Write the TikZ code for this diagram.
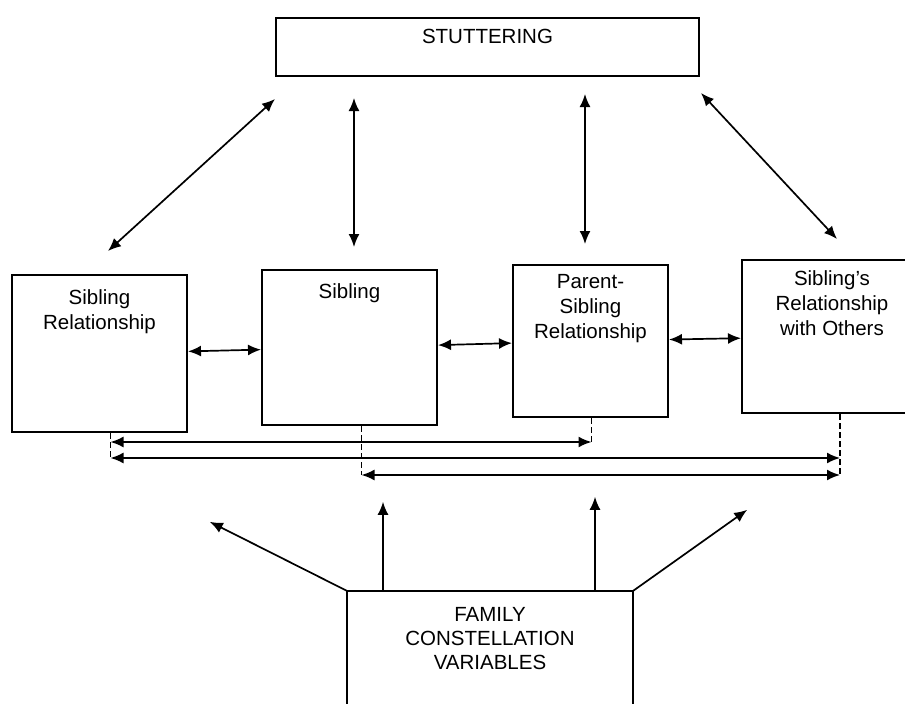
\documentclass[tikz,border=0pt]{standalone}
\usepackage{fontspec}
\setmainfont{Liberation Sans}
\usetikzlibrary{positioning,arrows.meta}

\begin{document}
\begin{tikzpicture}[
  x=1pt, y=1pt,
  box/.style={rectangle, draw, line width=2pt, inner sep=0pt},
  boxtext/.style={anchor=north, align=center, inner sep=0pt, font=\fontsize{20.5}{25}\selectfont},
  arrow/.style={-{Latex[length=13pt,width=11pt]}, line width=1.7pt},
  bidiarrow/.style={{Latex[length=13pt,width=11pt]}-{Latex[length=13pt,width=11pt]}, line width=1.7pt},
  drop/.style={line width=1.7pt, dash pattern=on 6pt off 3pt}
]
  \useasboundingbox (0,0) rectangle (905,-704);
  \clip (0,0) rectangle (905,-704);

  % Main components
  \node[box, minimum width=423pt, minimum height=58pt, label={[boxtext,yshift=-12pt]north:STUTTERING}] (stut) at (487.5,-47) {};
  \node[box, minimum width=175pt, minimum height=157pt, label={[boxtext,yshift=-15pt]north:Sibling\\Relationship}] (rel) at (99.5,-353.5) {};
  \node[box, minimum width=175pt, minimum height=155pt, label={[boxtext,yshift=-14pt]north:Sibling}] (sib) at (349.5,-347.5) {};
  \node[box, minimum width=155pt, minimum height=152pt, label={[boxtext,yshift=-10pt]north:Parent-\\Sibling\\Relationship}] (par) at (590.5,-341) {};
  \node[box, minimum width=180pt, minimum height=153pt, label={[boxtext,yshift=-11pt]north:Sibling's\\Relationship\\with Others}] (oth) at (832,-336.5) {};

  % Family box, open at the bottom
  \node[minimum width=286pt, minimum height=120pt, inner sep=0pt, label={[boxtext,yshift=-16pt,font=\fontsize{20.5}{24}\selectfont]north:FAMILY\\CONSTELLATION\\VARIABLES}] (fam) at (490,-651) {};
  \draw[line width=1.8pt] (fam.south west) -- (fam.north west) -- (fam.north east) -- (fam.south east);

  % Stuttering links
  \draw[bidiarrow] ([yshift=-22pt]stut.south west) -- ([xshift=8.5pt,yshift=23pt]rel.north);
  \draw[bidiarrow] ([xshift=-133.5pt,yshift=-21pt]stut.south) -- ([xshift=4.5pt,yshift=22pt]sib.north);
  \draw[bidiarrow] ([xshift=97.5pt,yshift=-17pt]stut.south) -- ([xshift=-5.5pt,yshift=20pt]par.north);
  \draw[bidiarrow] ([xshift=1pt,yshift=-16pt]stut.south east) -- ([xshift=5pt,yshift=20pt]oth.north);

  % Row links
  \draw[bidiarrow] (rel) -- (sib);
  \draw[bidiarrow] (sib) -- (par);
  \draw[bidiarrow] (par) -- (oth);

  % Dashed drops and cross links
  \coordinate (relD) at ([xshift=11pt]rel.south);
  \coordinate (sibD) at ([xshift=12pt]sib.south);
  \coordinate (parD) at ([xshift=1pt]par.south);
  \coordinate (othD) at ([xshift=8pt]oth.south);
  \coordinate (row1) at (0,-442);
  \coordinate (row2) at (0,-458);
  \coordinate (row3) at (0,-475);
  \draw[drop] (relD) -- (relD |- row2);
  \draw[drop] (sibD) -- (sibD |- row3);
  \draw[drop] (parD) -- (parD |- row1);
  \draw[drop] (othD) -- (othD |- row3);
  \draw[bidiarrow] (relD |- row1) -- (parD |- row1);
  \draw[bidiarrow] (relD |- row2) -- (othD |- row2);
  \draw[bidiarrow] (sibD |- row3) -- (othD |- row3);

  % Family influences
  \coordinate[above left=69pt and 137pt of fam.north west] (famL);
  \coordinate[above right=81pt and 114pt of fam.north east] (famR);
  \coordinate (famA) at ([xshift=-107pt,yshift=89pt]fam.north);
  \coordinate (famB) at ([xshift=105pt,yshift=94pt]fam.north);
  \draw[arrow] (fam.north west) -- (famL);
  \draw[arrow] (famA |- fam.north) -- (famA);
  \draw[arrow] (famB |- fam.north) -- (famB);
  \draw[arrow] (fam.north east) -- (famR);
\end{tikzpicture}
\end{document}
